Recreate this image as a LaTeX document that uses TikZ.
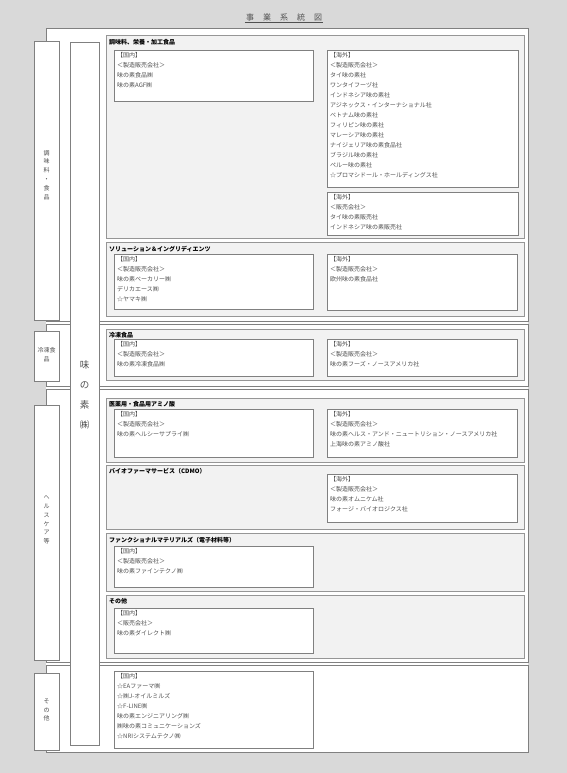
\documentclass[tikz,border=0pt]{standalone}
\usepackage{fontspec}
\setmainfont{Noto Sans CJK JP}
\usetikzlibrary{calc}

\definecolor{bggray}{RGB}{217,217,217}
\definecolor{linegray}{RGB}{128,128,128}
\definecolor{secline}{RGB}{150,150,150}
\definecolor{secfill}{RGB}{242,242,242}
\definecolor{txtgray}{RGB}{80,80,80}

\tikzset{
  grpbox/.style={draw=linegray, line width=0.9pt, fill=white},
  secbox/.style={draw=secline, line width=0.9pt, fill=secfill},
  inbox/.style={draw=linegray, line width=0.8pt, fill=white},
  lblbox/.style={draw=linegray, line width=0.8pt, fill=white},
  boxtext/.style={anchor=north west, inner sep=0pt, align=left, text=txtgray,
    font=\fontsize{6}{10}\selectfont},
  sectitle/.style={anchor=west, inner sep=0pt, text=black,
    font=\fontsize{6}{7}\selectfont\bfseries},
  vlabel/.style={inner sep=0pt, align=center, text=txtgray,
    font=\fontsize{6}{8.8}\selectfont},
  mainlabel/.style={inner sep=0pt, align=center, text=txtgray,
    font=\fontsize{9.5}{20}\selectfont},
  headtitle/.style={inner sep=1pt, text=txtgray, font=\fontsize{8}{9}\selectfont}
}

\begin{document}
\begin{tikzpicture}[x=1pt, y=-1pt]
\useasboundingbox (0,0) rectangle (567,773);
\fill[bggray] (0,0) rectangle (567,773);

% title
\node[headtitle] (head) at (284,17) {事\hspace{9pt}業\hspace{9pt}系\hspace{9pt}統\hspace{9pt}図};
\draw[txtgray, line width=0.5pt] ($(head.south west)+(0,0.5)$) -- ($(head.south east)+(0,0.5)$);

% panel and groups
\fill[white] (46,28) rectangle (528,752);
\draw[grpbox] (46,28) rectangle (528,321);
\draw[grpbox] (46,324) rectangle (528,386);
\draw[grpbox] (46,389) rectangle (528,662);
\draw[grpbox] (46,665) rectangle (528,752);

% segment labels
\draw[lblbox] (34,41) rectangle (59,320);
\node[vlabel] (seg1) at (46.5,175) {調\\味\\料\\・\\食\\品};
\draw[lblbox] (34,331) rectangle (59,381);
\node[vlabel] (seg2) at (46.5,355) {冷凍食\\品};
\draw[lblbox] (34,405) rectangle (59,660);
\node[vlabel] (seg3) at (46.5,520) {ヘ\\ル\\ス\\ケ\\ア\\等};
\draw[lblbox] (34,673) rectangle (59,750);
\node[vlabel] (seg4) at (46.5,710) {そ\\の\\他};

% company
\draw[lblbox] (70,42) rectangle (99,745);
\node[mainlabel] (ajinomoto) at (84.5,395) {味\\の\\素\\㈱};

% seasonings, nutrition and processed foods
\draw[secbox] (106,35) rectangle (524,238);
\node[sectitle] (sec1) at (109,42) {調味料、栄養・加工食品};
\draw[inbox] (114,50) rectangle (313,101);
\node[boxtext] (dom1) at (117,52.5) {【国内】\\＜製造販売会社＞\\味の素食品㈱\\味の素AGF㈱};
\draw[inbox] (327,50) rectangle (518,187);
\node[boxtext] (ovs1) at (330,52) {【海外】\\＜製造販売会社＞\\タイ味の素社\\ワンタイフーヅ社\\インドネシア味の素社\\アジネックス・インターナショナル社\\ベトナム味の素社\\フィリピン味の素社\\マレーシア味の素社\\ナイジェリア味の素食品社\\ブラジル味の素社\\ペルー味の素社\\☆プロマシドール・ホールディングス社};
\draw[inbox] (327,192) rectangle (518,235);
\node[boxtext] (ovs1b) at (330,194) {【海外】\\＜販売会社＞\\タイ味の素販売社\\インドネシア味の素販売社};

% solution and ingredients
\draw[secbox] (106,242) rectangle (524,316);
\node[sectitle] (sec2) at (109,249) {ソリューション＆イングリディエンツ};
\draw[inbox] (114,254) rectangle (313,309);
\node[boxtext] (dom2) at (117,256.5) {【国内】\\＜製造販売会社＞\\味の素ベーカリー㈱\\デリカエース㈱\\☆ヤマキ㈱};
\draw[inbox] (327,254) rectangle (517,310);
\node[boxtext] (ovs2) at (330,256.5) {【海外】\\＜製造販売会社＞\\欧州味の素食品社};

% frozen foods
\draw[secbox] (106,329) rectangle (524,380);
\node[sectitle] (sec3) at (109,335) {冷凍食品};
\draw[inbox] (114,339) rectangle (313,376);
\node[boxtext] (dom3) at (117,341.5) {【国内】\\＜製造販売会社＞\\味の素冷凍食品㈱};
\draw[inbox] (327,339) rectangle (517,376);
\node[boxtext] (ovs3) at (330,341.5) {【海外】\\＜製造販売会社＞\\味の素フーズ・ノースアメリカ社};

% amino acids
\draw[secbox] (106,398) rectangle (524,462);
\node[sectitle] (sec4) at (109,404) {医薬用・食品用アミノ酸};
\draw[inbox] (114,409) rectangle (313,457);
\node[boxtext] (dom4) at (117,411.5) {【国内】\\＜製造販売会社＞\\味の素ヘルシーサプライ㈱};
\draw[inbox] (327,409) rectangle (517,457);
\node[boxtext] (ovs4) at (330,411.5) {【海外】\\＜製造販売会社＞\\味の素ヘルス・アンド・ニュートリション・ノースアメリカ社\\上海味の素アミノ酸社};

% bio-pharma services
\draw[secbox] (106,465) rectangle (524,529);
\node[sectitle] (sec5) at (109,471) {バイオファーマサービス（CDMO）};
\draw[inbox] (327,474) rectangle (517,522);
\node[boxtext] (ovs5) at (330,476.5) {【海外】\\＜製造販売会社＞\\味の素オムニケム社\\フォージ・バイオロジクス社};

% functional materials
\draw[secbox] (106,533) rectangle (524,591);
\node[sectitle] (sec6) at (109,540) {ファンクショナルマテリアルズ（電子材料等）};
\draw[inbox] (114,546) rectangle (313,587);
\node[boxtext] (dom6) at (117,548.5) {【国内】\\＜製造販売会社＞\\味の素ファインテクノ㈱};

% others in healthcare
\draw[secbox] (106,595) rectangle (524,658);
\node[sectitle] (sec7) at (109,601) {その他};
\draw[inbox] (114,608) rectangle (313,653);
\node[boxtext] (dom7) at (117,610.5) {【国内】\\＜販売会社＞\\味の素ダイレクト㈱};

% others
\draw[inbox] (114,671) rectangle (313,748);
\node[boxtext] (dom8) at (117,673.5) {【国内】\\☆EAファーマ㈱\\☆㈱J-オイルミルズ\\☆F-LINE㈱\\味の素エンジニアリング㈱\\㈱味の素コミュニケーションズ\\☆NRIシステムテクノ㈱};

\end{tikzpicture}
\end{document}
